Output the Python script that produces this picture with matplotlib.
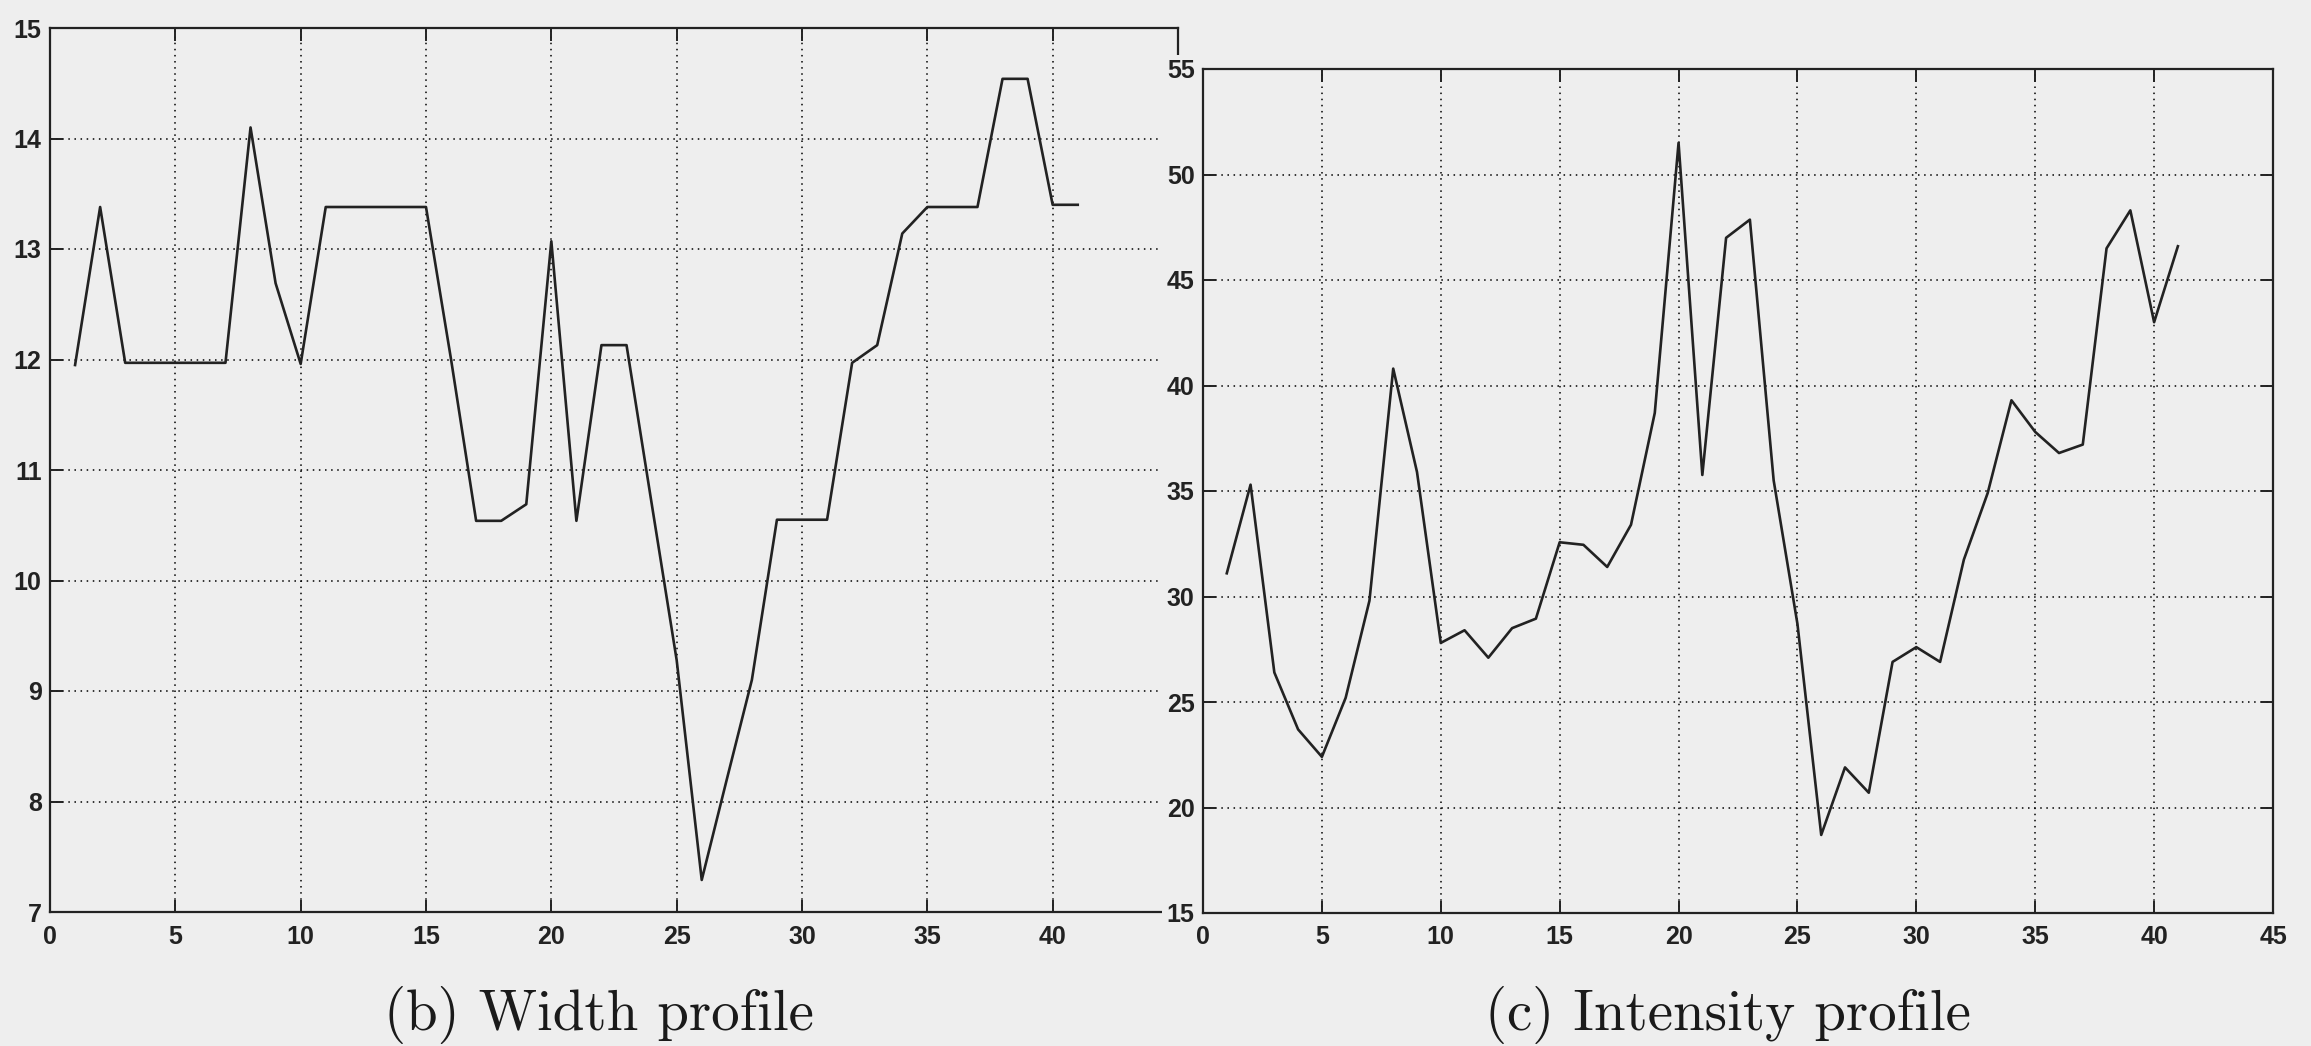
import numpy as np
import matplotlib.pyplot as plt
from matplotlib.patches import Rectangle

# values, sample index 1..41
frames = list(range(1, 42))
width_profile = [11.95, 13.38, 11.97, 11.97, 11.97, 11.97, 11.97, 14.1, 12.69, 11.96,
                 13.38, 13.38, 13.38, 13.38, 13.38, 12.0, 10.54, 10.54, 10.69, 13.07,
                 10.54, 12.13, 12.13, 10.7, 9.28, 7.29, 8.2, 9.1, 10.55, 10.55,
                 10.55, 11.97, 12.13, 13.14, 13.38, 13.38, 13.38, 14.54, 14.54, 13.4,
                 13.4]
intensity_profile = [31.1, 35.3, 26.4, 23.7, 22.4, 25.2, 29.8, 40.8, 35.9, 27.8,
                     28.4, 27.1, 28.5, 28.95, 32.57, 32.45, 31.4, 33.4, 38.7, 51.5,
                     35.76, 47.0, 47.86, 35.5, 28.7, 18.7, 21.9, 20.7, 26.9, 27.6,
                     26.9, 31.75, 34.9, 39.3, 37.8, 36.8, 37.2, 46.5, 48.3, 43.0,
                     46.6]
xticks = list(range(0, 46, 5))
width_yticks = list(range(7, 16))
intensity_yticks = list(range(15, 56, 5))
captions = ["(b) Width profile", "(c) Intensity profile"]

paper = '#eeeeee'
ink = '#222222'
W, H = 2311, 1046

fig = plt.figure(figsize=(W / 100, H / 100), dpi=100, facecolor=paper)


def px_box(x0, y0, x1, y1):
    # pixel box (top-left origin) -> figure fraction rect
    return [x0 / W, 1 - y1 / H, (x1 - x0) / W, (y1 - y0) / H]


def style_axes(ax, yt, ylim, hide_last_x=False):
    ax.set_facecolor(paper)
    ax.set_xlim(0, 45)
    ax.set_ylim(*ylim)
    ax.set_xticks(xticks)
    xlabels = [str(t) for t in xticks]
    if hide_last_x:
        # covered by the pasted second panel in the original
        xlabels[-1] = ''
    ax.set_xticklabels(xlabels)
    ax.set_yticks(yt)
    ax.grid(True, color='black', linestyle=(0, (1, 3)), linewidth=1.1)
    ax.tick_params(direction='in', length=9, width=1.4, top=True, right=True,
                   labelsize=18, colors=ink)
    ax.tick_params(axis='x', pad=9)
    ax.tick_params(axis='y', pad=6)
    for lab in ax.get_xticklabels() + ax.get_yticklabels():
        lab.set_fontfamily('Liberation Sans')
        lab.set_fontweight('bold')
    for s in ax.spines.values():
        s.set_linewidth(1.6)
        s.set_color(ink)


ax1 = fig.add_axes(px_box(50, 28, 1178, 912), zorder=0)
ax1.plot(frames, width_profile, color=ink, linewidth=1.9)
style_axes(ax1, width_yticks, (7, 15), hide_last_x=True)

# the second panel is pasted over the right edge of the first one
cover = Rectangle((1162 / W, 0), 1 - 1162 / W, 1 - 55 / H, transform=fig.transFigure,
                  facecolor=paper, edgecolor='none', zorder=1)
fig.add_artist(cover)

ax2 = fig.add_axes(px_box(1203, 69, 2273, 913), zorder=2)
ax2.plot(frames, intensity_profile, color=ink, linewidth=1.9)
style_axes(ax2, intensity_yticks, (15, 55))

fig.text(599 / W, 1 - 1030 / H, captions[0], fontfamily='cmr10', fontsize=41,
         ha='center', va='baseline', color='#1a1a1a', zorder=3)
fig.text(1728 / W, 1 - 1030 / H, captions[1], fontfamily='cmr10', fontsize=41,
         ha='center', va='baseline', color='#1a1a1a', zorder=3)

fig.savefig('out.png', dpi=100, facecolor=paper)
